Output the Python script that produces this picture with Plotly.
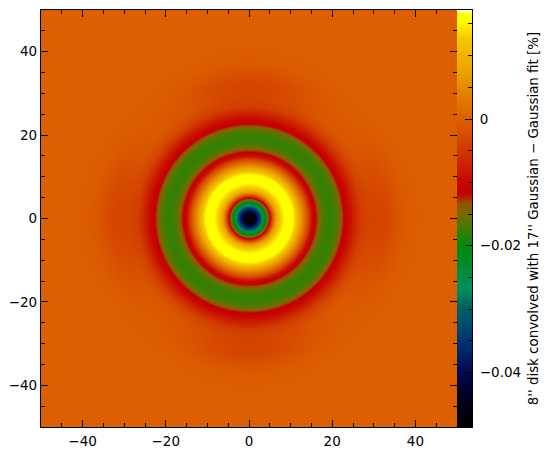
import numpy as np
import plotly.graph_objects as go

# Radial profile read along the image axis and along its diagonal (offset in arcsec, value in %)
radius = [0, 1, 1.5, 2, 2.5, 3, 3.5, 4, 4.4, 4.8, 5.2, 5.6, 6.2, 7, 7.5, 8.5, 9.5, 10.5, 11.2, 12,
          12.8, 13.6, 14.4, 15, 15.6, 16.2, 16.8, 17.3, 18, 19.5, 21, 21.6, 22.2, 22.8, 23.5, 24.5, 25.5,
          27, 29, 31, 33, 37, 40, 45, 75]
value_axis = [-0.0486, -0.0465, -0.043, -0.0385, -0.0335, -0.028, -0.0235, -0.0195, -0.015, -0.0115,
              -0.007, -0.001, 0.006, 0.011, 0.013, 0.0155, 0.0165, 0.0155, 0.0125, 0.0085,
              0.0045, 0.0, -0.005, -0.009, -0.0108, -0.0125, -0.0143, -0.016, -0.0172, -0.0178, -0.0168,
              -0.0154, -0.0132, -0.0114, -0.0101, -0.0085, -0.0065,
              -0.004, -0.0034, -0.0033, -0.003, -0.0008, -0.0003, 0, 0]
value_diag = [-0.0486, -0.0465, -0.043, -0.0385, -0.0335, -0.028, -0.0235, -0.0195, -0.015, -0.0115,
              -0.007, -0.001, 0.006, 0.011, 0.013, 0.0155, 0.0165, 0.0155, 0.0125, 0.0085,
              0.0045, 0.0, -0.005, -0.009, -0.0108, -0.0125, -0.0143, -0.016, -0.0172, -0.0178, -0.0168,
              -0.0154, -0.0132, -0.0114, -0.0101, -0.0082, -0.0058,
              -0.003, -0.0012, -0.0008, -0.0006, -0.0003, -0.0001, 0, 0]

# Colour table read from the wedge
scale_values = [-0.0486, -0.0420, -0.0400, -0.0360, -0.0326, -0.0296, -0.0268, -0.0232, -0.0200, -0.0168,
                -0.0148, -0.0132, -0.0116, -0.0100, -0.0046, 0.0, 0.0022, 0.0074, 0.0128, 0.0155, 0.0166, 0.0172]
scale_colors = ["#000000", "#000030", "#000a50", "#002a70", "#004a70", "#006060", "#009060", "#008a30", "#008a10",
                "#4a7a00", "#7a6800", "#985000", "#c00000", "#c80500", "#d03a00", "#dd6000", "#e07000", "#eba000",
                "#f5c800", "#ffff00", "#ffff00", "#ffffb0"]

x_grid = np.linspace(-50, 50, 417)
y_grid = np.linspace(-50, 50, 417)
xx, yy = np.meshgrid(x_grid, y_grid)
rr = np.hypot(xx, yy)
blend = 0.5 * (1 + np.cos(4 * np.arctan2(yy, xx)))
z = blend * np.interp(rr, radius, value_axis) + (1 - blend) * np.interp(rr, radius, value_diag)

zmin, zmax = scale_values[0], scale_values[-1]
colorscale = [[(v - zmin) / (zmax - zmin), c] for v, c in zip(scale_values, scale_colors)]
wedge_levels = np.linspace(zmin, zmax, 418)

W, H = 547, 457
L, R, T, B, CB = 41, 457, 10, 427, 472
font = dict(family="DejaVu Sans", size=13.5, color="black")

fig = go.Figure()
fig.add_trace(go.Heatmap(x=x_grid, y=y_grid, z=z, zmin=zmin, zmax=zmax, colorscale=colorscale,
                         showscale=False, hoverinfo="skip"))
fig.add_trace(go.Heatmap(x=[0, 1], y=wedge_levels, z=np.column_stack([wedge_levels, wedge_levels]),
                         zmin=zmin, zmax=zmax, colorscale=colorscale, showscale=False,
                         xaxis="x2", yaxis="y2", hoverinfo="skip"))

main_axis = dict(range=[-50, 50], tick0=0, dtick=20, ticks="inside", ticklen=7, tickwidth=1, tickcolor="black",
                 minor=dict(tick0=0, dtick=5, ticks="inside", ticklen=4, tickwidth=1, tickcolor="black"),
                 showgrid=False, zeroline=False, showline=True, linecolor="black", linewidth=1.2,
                 mirror="ticks", tickfont=font)
fig.update_layout(
    width=W, height=H, autosize=False, margin=dict(l=0, r=0, t=0, b=0),
    paper_bgcolor="white", plot_bgcolor="white", font=font, showlegend=False,
    xaxis=dict(domain=[L / W, R / W], anchor="y", ticklabelstandoff=2, **main_axis),
    yaxis=dict(domain=[(H - B) / H, (H - T) / H], anchor="x", **main_axis),
    xaxis2=dict(domain=[R / W, CB / W], anchor="y2", range=[0, 1], showticklabels=False, ticks="",
                showgrid=False, zeroline=False, showline=True, linecolor="black", linewidth=1.2, mirror=True),
    yaxis2=dict(domain=[(H - B) / H, (H - T) / H], anchor="x2", side="right", range=[zmin, zmax],
                tick0=0, dtick=0.02, ticks="inside", ticklen=7, tickwidth=1, tickcolor="black",
                minor=dict(tick0=0, dtick=0.005, ticks="inside", ticklen=4, tickwidth=1, tickcolor="black"),
                showgrid=False, zeroline=False, showline=True, linecolor="black", linewidth=1.2,
                tickfont=font, ticklabelposition="outside", tickformat="~g", ticklabelstandoff=4,
                title=dict(text="8'' disk convolved with 17'' Gaussian − Gaussian fit [%]",
                           font=dict(family="DejaVu Sans", size=13.4, color="black"), standoff=8)),
)
fig.write_html("out.html", config=dict(displayModeBar=False), post_script="document.body.style.margin='0';")
